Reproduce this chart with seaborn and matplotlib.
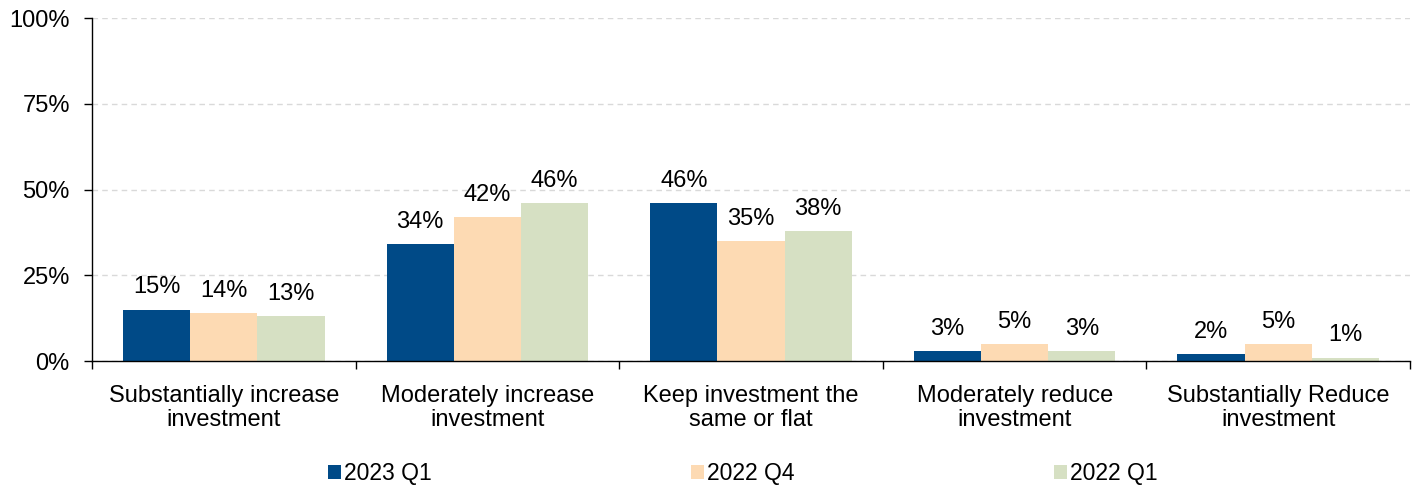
import matplotlib
matplotlib.use("Agg")
import matplotlib.pyplot as plt
from matplotlib.patches import Patch
from matplotlib.ticker import FixedLocator, FuncFormatter
import pandas as pd
import seaborn as sns

categories = [
    "Substantially increase\ninvestment",
    "Moderately increase\ninvestment",
    "Keep investment the\nsame or flat",
    "Moderately reduce\ninvestment",
    "Substantially Reduce\ninvestment",
]
series_names = ["2023 Q1", "2022 Q4", "2022 Q1"]
q1_2023 = [15, 34, 46, 3, 2]
q4_2022 = [14, 42, 35, 5, 5]
q1_2022 = [13, 46, 38, 3, 1]
y_ticks = [0, 25, 50, 75, 100]
colors = ["#004A87", "#FDDAB3", "#D6E0C3"]

rows = []
for name, vals in zip(series_names, [q1_2023, q4_2022, q1_2022]):
    for cat, v in zip(categories, vals):
        rows.append({"category": cat, "series": name, "value": v})
df = pd.DataFrame(rows)

sns.set_style("white")
plt.rcParams["font.family"] = ["Liberation Sans", "DejaVu Sans"]
plt.rcParams["text.color"] = "#000000"
plt.rcParams["xtick.color"] = "#000000"
plt.rcParams["ytick.color"] = "#000000"

fig = plt.figure(figsize=(14.2, 4.87), dpi=100)
ax = fig.add_axes([0.0648, 0.2587, 0.9282, 0.7043])

sns.barplot(data=df, x="category", y="value", hue="series",
            order=categories, hue_order=series_names,
            palette=colors, saturation=1, width=0.765, gap=0,
            linewidth=0, edgecolor="none",
            errorbar=None, legend=False, ax=ax)

for cont in ax.containers:
    ax.bar_label(cont, labels=[f"{v:.0f}%" for v in cont.datavalues],
                 padding=8, fontsize=17, color="#000000")

ax.set_ylim(0, 100)
ax.set_xlim(-0.5, len(categories) - 0.5)
ax.set_yticks(y_ticks)
ax.yaxis.set_major_formatter(FuncFormatter(lambda v, p: f"{v:.0f}%"))
ax.tick_params(axis="y", labelsize=17, length=6, width=1, color="#000000",
               labelcolor="#000000", direction="out", pad=10, left=True)
ax.yaxis.grid(True, linestyle=(0, (4, 3)), color="#D9D9D9", linewidth=1)
ax.set_axisbelow(True)

# category labels centered, tick marks on category boundaries
ax.set_xticks(range(len(categories)))
ax.set_xticklabels(categories, fontsize=17, linespacing=1.15)
ax.tick_params(axis="x", length=0, pad=17, labelcolor="#000000")
ax.xaxis.set_minor_locator(FixedLocator([i - 0.5 for i in range(len(categories) + 1)]))
ax.tick_params(axis="x", which="minor", length=6, width=1, color="#000000",
               direction="out", bottom=True)

for side in ["top", "right"]:
    ax.spines[side].set_visible(False)
for side in ["left", "bottom"]:
    ax.spines[side].set_color("#000000")
    ax.spines[side].set_linewidth(1)
ax.set_xlabel("")
ax.set_ylabel("")

handles = [Patch(facecolor=c, edgecolor="none") for c in colors]
fig.legend(handles, series_names, loc="center", bbox_to_anchor=(0.523, 0.028),
           ncol=3, frameon=False, fontsize=16.5, handlelength=0.57,
           handleheight=0.57, handletextpad=0.15, columnspacing=11.3,
           labelcolor="#000000")

fig.savefig("out.png", dpi=100)
